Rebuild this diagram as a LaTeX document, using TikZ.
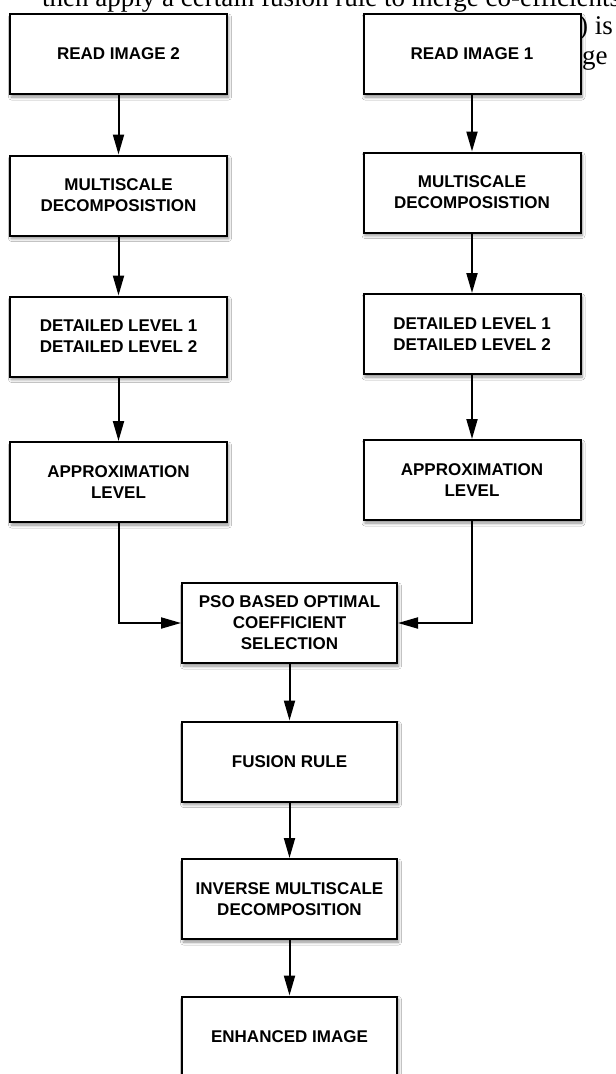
\documentclass[tikz,border=0pt]{standalone}
\usepackage{fontspec}
\setmainfont{Liberation Serif}
\newfontfamily\boxfont{Liberation Sans}
\usetikzlibrary{arrows.meta,shadows.blur}
\begin{document}
\begin{tikzpicture}[x=1pt,y=-1pt,
  stepbox/.style={draw=black, line width=2pt, fill=white, minimum width=217pt, minimum height=80pt,
    inner sep=0pt, align=center, font=\boxfont\bfseries\fontsize{17}{21}\selectfont,
    blur shadow={shadow xshift=1.5pt, shadow yshift=-3pt, shadow blur radius=3pt, shadow blur steps=6, shadow opacity=45}},
  arr/.style={line width=2pt, -{Triangle[length=20pt,width=11pt]}},
  frag/.style={inner sep=0pt, font=\fontsize{27}{32}\selectfont}]
\clip (0,0) rectangle (616,1074);
\fill[white] (0,0) rectangle (616,1074);
\useasboundingbox (0,0) rectangle (616,1074);
% background text fragments
\node[frag, anchor=base west] (t1) at (42,6) {then apply a certain fusion rule to merge co-efficients};
\node[frag, anchor=base west] (t2) at (579,34) {) is};
\node[frag, anchor=base west] (t3) at (582,64) {ge};
% left column
\node[stepbox] (read2) at (118.5,54) {READ IMAGE 2};
\node[stepbox] (ms2) at (118.5,195.5) {MULTISCALE\\DECOMPOSISTION};
\node[stepbox] (det2) at (118.5,336.5) {DETAILED LEVEL 1\\DETAILED LEVEL 2};
\node[stepbox] (app2) at (118.5,482) {APPROXIMATION\\LEVEL};
% right column
\node[stepbox] (read1) at (472,54) {READ IMAGE 1};
\node[stepbox] (ms1) at (472,192.5) {MULTISCALE\\DECOMPOSISTION};
\node[stepbox] (det1) at (472,334) {DETAILED LEVEL 1\\DETAILED LEVEL 2};
\node[stepbox] (app1) at (472,480) {APPROXIMATION\\LEVEL};
% centre column
\node[stepbox, minimum width=215pt] (pso) at (289.5,623) {PSO BASED OPTIMAL\\COEFFICIENT\\SELECTION};
\node[stepbox, minimum width=215pt] (fus) at (289.5,761.5) {FUSION RULE};
\node[stepbox, minimum width=215pt] (inv) at (289.5,899) {INVERSE MULTISCALE\\DECOMPOSITION};
\node[stepbox, minimum width=215pt] (enh) at (289.5,1036.5) {ENHANCED IMAGE};
% connectors
\draw[arr] (read2) -- (ms2);
\draw[arr] (ms2) -- (det2);
\draw[arr] (det2) -- (app2);
\draw[arr] (read1) -- (ms1);
\draw[arr] (ms1) -- (det1);
\draw[arr] (det1) -- (app1);
\draw[arr] (app2.south) |- (pso.west);
\draw[arr] (app1.south) |- (pso.east);
\draw[arr] (pso) -- (fus);
\draw[arr] (fus) -- (inv);
\draw[arr] (inv) -- (enh);
\end{tikzpicture}
\end{document}
